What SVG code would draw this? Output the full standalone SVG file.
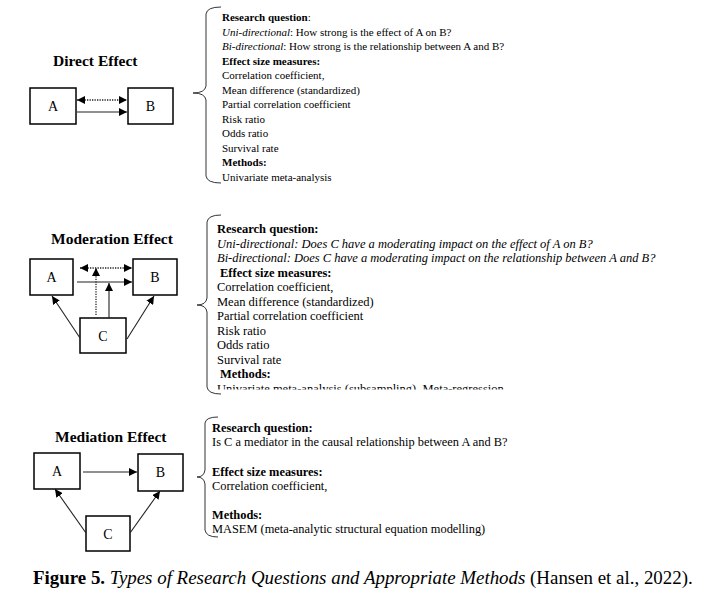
<svg xmlns="http://www.w3.org/2000/svg" width="709" height="591" viewBox="0 0 709 591">
<style>
text{font-family:"Liberation Serif","Times New Roman",serif;fill:#000}
.t{font-size:11px}
.t2{font-size:12.5px}
.t3{font-size:12.4px}
.b{font-weight:bold}
.i{font-style:italic}
.title{font-size:15.5px;font-weight:bold}
.lbl{font-size:14px;text-anchor:middle}
.box{fill:#fff;stroke:#000;stroke-width:1.5}
.ln{fill:none;stroke:#222;stroke-width:1.1}
.dot{fill:none;stroke:#222;stroke-width:1.3;stroke-dasharray:1.3 1.2}
.br{fill:none;stroke:#333;stroke-width:1}
.cap{font-size:18.9px}
</style>
<defs>
<marker id="ah" viewBox="0 0 8 8" refX="8" refY="4" markerWidth="8" markerHeight="8" markerUnits="userSpaceOnUse" orient="auto-start-reverse"><path d="M0,0 L8,4 L0,8 z" fill="#000"/></marker>
<clipPath id="clip2"><rect x="190" y="200" width="519" height="189.5"/></clipPath>
</defs>
<rect width="709" height="591" fill="#fff"/>

<!-- Direct effect -->
<text class="title" x="53" y="66">Direct Effect</text>
<g id="d-A"><rect class="box" x="30" y="88" width="46" height="36"/><text class="lbl" x="53" y="111">A</text></g>
<g id="d-B"><rect class="box" x="128" y="88" width="45" height="36"/><text class="lbl" x="150.5" y="111">B</text></g>

<!-- Moderation effect -->
<text class="title" x="51" y="244">Moderation Effect</text>
<g id="m-A"><rect class="box" x="30" y="259" width="43" height="36"/><text class="lbl" x="51.5" y="282">A</text></g>
<g id="m-B"><rect class="box" x="133" y="259" width="44" height="36"/><text class="lbl" x="155" y="282">B</text></g>
<g id="m-C"><rect class="box" x="80" y="318" width="46" height="35"/><text class="lbl" x="103" y="341">C</text></g>

<!-- Mediation effect -->
<text class="title" x="55" y="442">Mediation Effect</text>
<g id="e-A"><rect class="box" x="34" y="453" width="46" height="36"/><text class="lbl" x="57" y="476">A</text></g>
<g id="e-B"><rect class="box" x="138" y="454" width="45" height="37"/><text class="lbl" x="160.5" y="477">B</text></g>
<g id="e-C"><rect class="box" x="86" y="516" width="44" height="35"/><text class="lbl" x="108" y="539">C</text></g>

<g id="connectors">
<path class="dot" d="M77,100 H127" marker-start="url(#ah)" marker-end="url(#ah)"/>
<path class="ln" d="M77,112 H127" marker-end="url(#ah)"/>

<path class="dot" d="M80,268 H132" marker-start="url(#ah)" marker-end="url(#ah)"/>
<path class="ln" d="M77,282 H132" marker-end="url(#ah)"/>
<path class="dot" d="M96,315 V268" marker-end="url(#ah)"/>
<path class="ln" d="M109,318 V283" marker-end="url(#ah)"/>
<path class="ln" d="M80,338 L52,296" marker-end="url(#ah)"/>
<path class="ln" d="M127,339 L154,296" marker-end="url(#ah)"/>

<path class="ln" d="M83,472 H137" marker-end="url(#ah)"/>
<path class="ln" d="M86,533 L55,489" marker-end="url(#ah)"/>
<path class="ln" d="M130,533 L160,491" marker-end="url(#ah)"/>
</g>

<!-- Braces -->
<g id="braces">
<path class="br" d="M221,7 Q207,7 206,14 V86 Q205,93 193,93 Q205,93 206,100 V176 Q207,183 221,183"/>
<path class="br" d="M221,215 Q208,215 207,222 V298 Q206,305 197,305 Q206,305 207,312 V387 Q208,394 221,394"/>
<path class="br" d="M218,417 Q206,417 205,423 V470 Q204,477 197,477 Q204,477 205,484 V530 Q206,537 218,537"/>
</g>

<!-- Text block 1 -->
<g id="text1" class="t">
<text x="222" y="21"><tspan class="b">Research question</tspan>:</text>
<text x="222" y="35.5"><tspan class="i">Uni-directional</tspan>: How strong is the effect of A on B?</text>
<text x="222" y="50"><tspan class="i">Bi-directional</tspan>: How strong is the relationship between A and B?</text>
<text x="222" y="64.5" class="b">Effect size measures:</text>
<text x="222" y="79">Correlation coefficient,</text>
<text x="222" y="93.5">Mean difference (standardized)</text>
<text x="222" y="108">Partial correlation coefficient</text>
<text x="222" y="122.5">Risk ratio</text>
<text x="222" y="137">Odds ratio</text>
<text x="222" y="151.5">Survival rate</text>
<text x="222" y="166" class="b">Methods:</text>
<text x="222" y="180.5">Univariate meta-analysis</text>
</g>

<!-- Text block 2 -->
<g id="text2" class="t2" clip-path="url(#clip2)">
<text x="217" y="233" class="b">Research question:</text>
<text x="217" y="247.5" class="i">Uni-directional: Does C have a moderating impact on the effect of A on B?</text>
<text x="217" y="262" class="i">Bi-directional: Does C have a moderating impact on the relationship between A and B?</text>
<text x="220" y="276.5" class="b">Effect size measures:</text>
<text x="217" y="291">Correlation coefficient,</text>
<text x="217" y="305.5">Mean difference (standardized)</text>
<text x="217" y="320">Partial correlation coefficient</text>
<text x="217" y="334.5">Risk ratio</text>
<text x="217" y="349">Odds ratio</text>
<text x="217" y="363.5">Survival rate</text>
<text x="220" y="378" class="b">Methods:</text>
<text x="217" y="392.5">Univariate meta-analysis (subsampling), Meta-regression</text>
</g>

<!-- Text block 3 -->
<g id="text3" class="t3">
<text x="212" y="432" class="b">Research question:</text>
<text x="212" y="446">Is C a mediator in the causal relationship between A and B?</text>
<text x="212" y="476" class="b">Effect size measures:</text>
<text x="212" y="490">Correlation coefficient,</text>
<text x="212" y="519" class="b">Methods:</text>
<text x="212" y="533">MASEM (meta-analytic structural equation modelling)</text>
</g>

<text class="cap" x="33" y="584"><tspan class="b">Figure 5.</tspan> <tspan class="i">Types of Research Questions and Appropriate Methods</tspan> (Hansen et al., 2022).</text>
</svg>
